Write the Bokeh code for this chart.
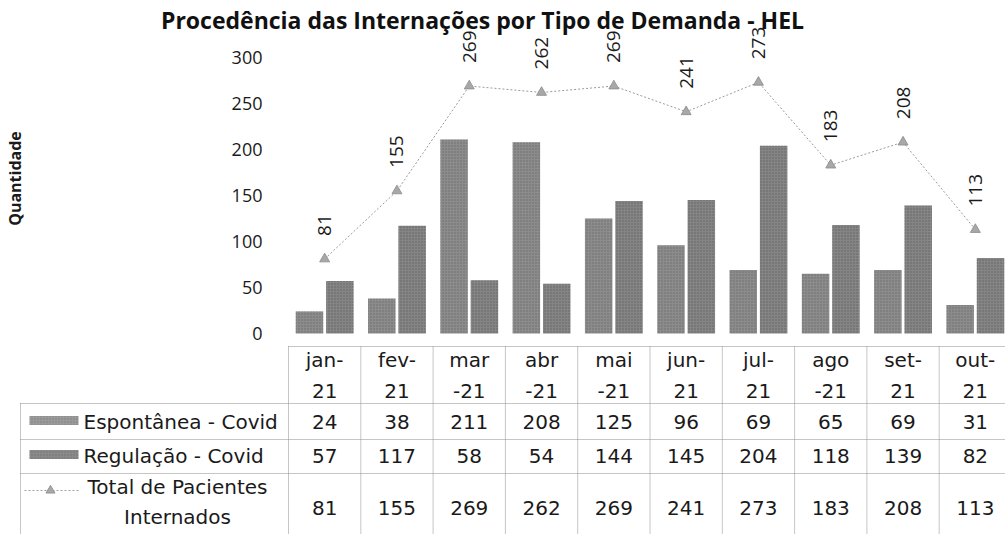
import numpy as np
from bokeh.plotting import figure
from bokeh.models import Range1d, ColumnDataSource
from bokeh.embed import file_html
from bokeh.resources import INLINE
from bokeh.core.properties import value

# ---------------- data ----------------
months = ["jan-21", "fev-21", "mar-21", "abr-21", "mai-21", "jun-21",
          "jul-21", "ago-21", "set-21", "out-21"]
header_labels = ["jan-\n21", "fev-\n21", "mar\n-21", "abr\n-21", "mai\n-21",
                 "jun-\n21", "jul-\n21", "ago\n-21", "set-\n21", "out-\n21"]
espontanea = [24, 38, 211, 208, 125, 96, 69, 65, 69, 31]
regulacao = [57, 117, 58, 54, 144, 145, 204, 118, 139, 82]
total = [81, 155, 269, 262, 269, 241, 273, 183, 208, 113]
y_ticks = [0, 50, 100, 150, 200, 250, 300]
series_names = ["Espontânea - Covid", "Regulação - Covid",
                "Total de Pacientes\nInternados"]
title_text = "Procedência das Internações por Tipo de Demanda - HEL"
y_label = "Quantidade"

# ---------------- layout (page pixels) ----------------
W, H = 1005, 534
ORIGIN = 0         # the figure is drawn from the page's top-left corner
X0_PX = 288        # left edge of the first category column
COL_W = 72.3       # px per category
Y0_PX = 333        # page y of value 0
PX_PER_UNIT = 0.92

def sx(px):   # page x -> category units
    return (px - X0_PX) / COL_W

def sy(py):   # page y -> value units
    return (Y0_PX - py) / PX_PER_UNIT

n = len(months)
xc = [i + 0.5 for i in range(n)]

CHART_FONT = value("Open Sans")
TABLE_FONT = value("DejaVu Sans")
TXT = "#1a1a1a"

p = figure(width=W, height=H, output_backend="svg", toolbar_location=None,
           x_range=Range1d(sx(ORIGIN), sx(ORIGIN + W)),
           y_range=Range1d(sy(ORIGIN + H), sy(ORIGIN)),
           min_border_left=0, min_border_right=0,
           min_border_top=0, min_border_bottom=0)
p.outline_line_color = None
p.axis.visible = False
p.grid.visible = False
p.background_fill_color = "white"
p.border_fill_color = "white"

# ---------------- title & y axis texts ----------------
p.text(x=[sx(482)], y=[sy(19)], text=[title_text], text_align="center",
       text_baseline="middle", text_font=CHART_FONT, text_font_style="bold",
       text_font_size="23px", text_color="#111111")
p.text(x=[sx(262)] * len(y_ticks), y=y_ticks, text=[str(v) for v in y_ticks],
       text_align="right", text_baseline="middle", text_font=CHART_FONT,
       text_font_size="18px", text_color=TXT)
p.text(x=[sx(14)], y=[sy(178)], text=[y_label], angle=np.pi / 2,
       text_align="center", text_baseline="middle", text_font=CHART_FONT,
       text_font_style="bold", text_font_size="16px", text_color=TXT)

# ---------------- bars, line ----------------
src = ColumnDataSource(dict(x=xc, tot=total, lab=[str(v) for v in total]))
bw = 0.38
off = 0.21
p.vbar(x=[v - off for v in xc], top=espontanea, width=bw, bottom=0,
       fill_color="#8c8c8c", line_color=None,
       hatch_pattern="dot", hatch_color="#5e5e5e", hatch_scale=3, hatch_alpha=0.7)
p.vbar(x=[v + off for v in xc], top=regulacao, width=bw, bottom=0,
       fill_color="#858585", line_color=None,
       hatch_pattern="dot", hatch_color="#555555", hatch_scale=3, hatch_alpha=0.7)
p.line(x="x", y="tot", source=src, line_color="#9a9a9a", line_width=1,
       line_dash="2 2")
p.scatter(x="x", y="tot", source=src, marker="triangle", size=10,
          fill_color="#a8a8a8", line_color="#8a8a8a", line_width=0.8)
p.text(x="x", y="tot", text="lab", source=src, angle=np.pi / 2,
       text_align="left", text_baseline="middle", y_offset=-23,
       text_font=CHART_FONT, text_font_size="19px", text_color=TXT)

# ---------------- data table ----------------
row_edges = [sy(346), sy(403), sy(439), sy(473), sy(560)]
left_edge = sx(20)
BORDER = dict(line_color="#8c8c8c", line_width=1, line_dash="1 1")

for i in range(n + 1):
    p.segment(x0=i, y0=row_edges[0], x1=i, y1=row_edges[-1], **BORDER)
p.segment(x0=left_edge, y0=row_edges[1], x1=left_edge, y1=row_edges[-1], **BORDER)
p.segment(x0=0, y0=row_edges[0], x1=n, y1=row_edges[0], **BORDER)
for e in row_edges[1:4]:
    p.segment(x0=left_edge, y0=e, x1=n, y1=e, **BORDER)

p.text(x=xc, y=[sy(375)] * n, text=header_labels, text_align="center",
       text_baseline="middle", text_font=TABLE_FONT, text_font_size="20px",
       text_line_height=1.3, text_color=TXT)

row_y = [sy(421), sy(455), sy(507)]
for vals, ry in zip([espontanea, regulacao, total], row_y):
    p.text(x=xc, y=[ry] * n, text=[str(v) for v in vals], text_align="center",
           text_baseline="middle", text_font=TABLE_FONT, text_font_size="20px",
           text_color=TXT)

# legend column
sw_x = sx(53.5)
sw_w = 49 / COL_W
sw_h = 9 / PX_PER_UNIT
p.rect(x=[sw_x], y=[sy(420)], width=sw_w, height=sw_h, fill_color="#9a9a9a",
       line_color=None, hatch_pattern="dot", hatch_color="#6a6a6a",
       hatch_scale=3, hatch_alpha=0.6)
p.rect(x=[sw_x], y=[sy(454)], width=sw_w, height=sw_h, fill_color="#8a8a8a",
       line_color=None, hatch_pattern="dot", hatch_color="#5e5e5e",
       hatch_scale=3, hatch_alpha=0.6)
p.segment(x0=sx(24), y0=sy(490), x1=sx(78), y1=sy(490), line_color="#a0a0a0",
          line_width=1, line_dash="2 2")
p.scatter(x=[sx(50)], y=[sy(490)], marker="triangle", size=9,
          fill_color="#a8a8a8", line_color="#8a8a8a", line_width=0.8)

p.text(x=[sx(83), sx(83)], y=[sy(421), sy(455)], text=series_names[:2],
       text_align="left", text_baseline="middle", text_font=TABLE_FONT,
       text_font_size="20px", text_color=TXT)
p.text(x=[sx(177)], y=[sy(501)], text=[series_names[2]], text_align="center",
       text_baseline="middle", text_font=TABLE_FONT, text_font_size="20px",
       text_line_height=1.25, text_color=TXT)

open("out.html", "w").write(file_html(p, INLINE))
